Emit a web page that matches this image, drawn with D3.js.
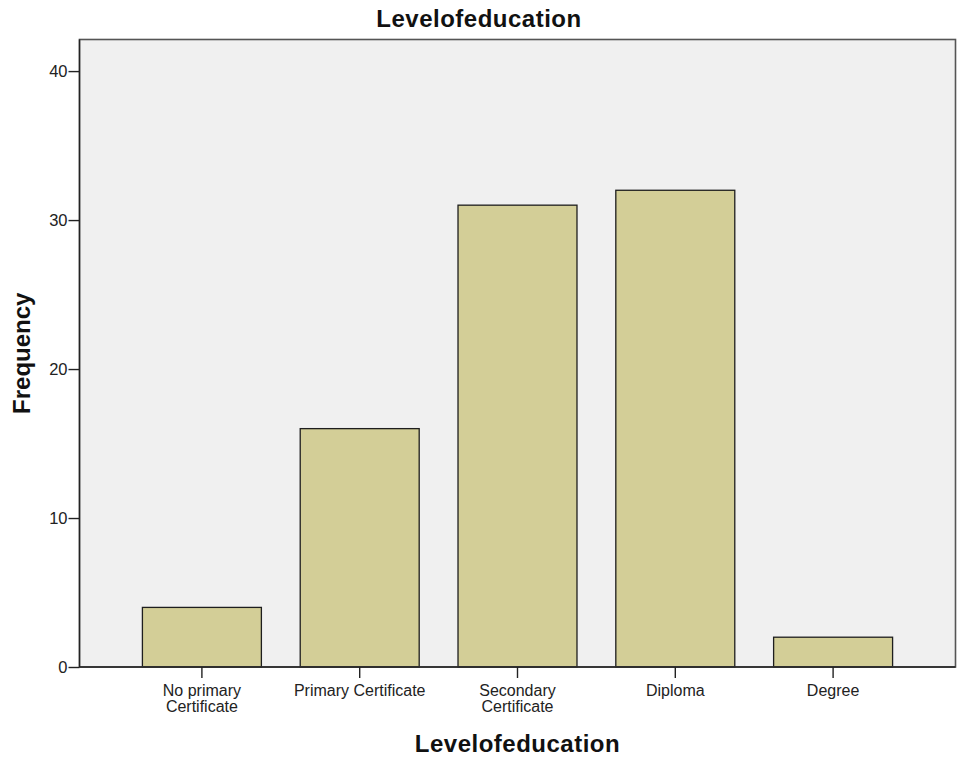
<!DOCTYPE html>
<html><head><meta charset="utf-8">
<script src="https://cdn.jsdelivr.net/npm/d3@7/dist/d3.min.js"></script>
<style>body{margin:0;background:#fff}svg{display:block}text{font-family:"Liberation Sans",Arial,sans-serif}</style>
</head><body><svg id="c" width="958" height="757"></svg>
<script>
const categories = [["No primary","Certificate"],["Primary Certificate"],["Secondary","Certificate"],["Diploma"],["Degree"]];
const values = [4, 16, 31, 32, 2];
const yTicks = [0, 10, 20, 30, 40];
const title = "Levelofeducation";
const xTitle = "Levelofeducation";
const yTitle = "Frequency";

const svg = d3.select("#c");
const L = 79.5, R = 955.5, T = 39.5, B = 667;
const keys = categories.map(c => c.join(" "));
const x = d3.scaleBand().domain(keys).range([123, 912]).paddingInner(0.246).paddingOuter(0.123);
const y = d3.scaleLinear().domain([0, 42.12]).range([B, T]);

svg.append("rect").attr("x", L).attr("y", T).attr("width", R - L).attr("height", B - T).attr("fill", "#f0f0f0");

svg.selectAll("rect.bar").data(values).join("rect").attr("class", "bar")
  .attr("x", (d, i) => x(keys[i])).attr("width", x.bandwidth())
  .attr("y", d => y(d)).attr("height", d => B - y(d))
  .attr("fill", "#d3ce97").attr("stroke", "#1e1e1e").attr("stroke-width", 1.3);

svg.append("rect").attr("x", L).attr("y", T).attr("width", R - L).attr("height", B - T)
  .attr("fill", "none").attr("stroke", "#555").attr("stroke-width", 1.6);
svg.append("line").attr("x1", L).attr("x2", L).attr("y1", T).attr("y2", B).attr("stroke", "#222").attr("stroke-width", 1.4);
svg.append("line").attr("x1", L).attr("x2", R).attr("y1", B).attr("y2", B).attr("stroke", "#222").attr("stroke-width", 1.4);

// y axis
const ya = svg.append("g").attr("transform", `translate(${L},0)`)
  .call(d3.axisLeft(y).tickValues(yTicks).tickSize(11).tickPadding(1).tickFormat(d3.format("d")));
ya.select(".domain").remove();
ya.selectAll(".tick line").attr("stroke", "#222").attr("stroke-width", 1.4);
ya.selectAll(".tick text").attr("font-size", "16.5px").attr("fill", "#222").attr("font-family", "Liberation Sans, Arial, sans-serif");

// x axis
const xa = svg.append("g").attr("transform", `translate(0,${B})`)
  .call(d3.axisBottom(x).tickSize(11).tickFormat(""));
xa.select(".domain").remove();
xa.selectAll(".tick line").attr("stroke", "#222").attr("stroke-width", 1.4);
xa.selectAll(".tick").each(function(d, i) {
  const t = d3.select(this).append("text").attr("fill", "#222").attr("font-size", "16px")
    .attr("text-anchor", "middle").attr("font-family", "Liberation Sans, Arial, sans-serif");
  categories[i].forEach((line, j) => {
    t.append("tspan").attr("x", 0).attr("y", 29 + j * 16).text(line);
  });
});

svg.append("text").attr("x", 479).attr("y", 27).attr("text-anchor", "middle")
  .attr("font-weight", "bold").attr("font-size", "24px").attr("letter-spacing", "0.5px").attr("fill", "#111").text(title);
svg.append("text").attr("x", (123 + 912) / 2).attr("y", 752).attr("text-anchor", "middle")
  .attr("font-weight", "bold").attr("font-size", "24px").attr("letter-spacing", "0.5px").attr("fill", "#111").text(xTitle);
svg.append("text").attr("transform", `translate(30,${(T + B) / 2}) rotate(-90)`).attr("text-anchor", "middle")
  .attr("font-weight", "bold").attr("font-size", "24px").attr("fill", "#111").text(yTitle);
</script></body></html>
